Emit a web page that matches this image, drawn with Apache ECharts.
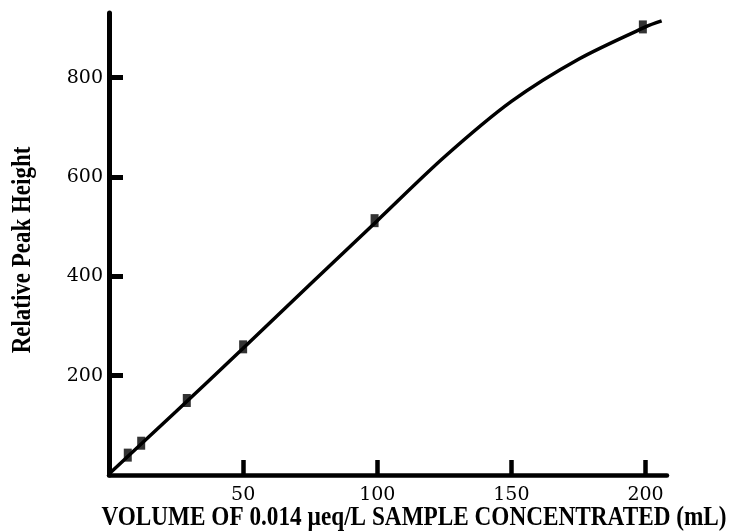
<!DOCTYPE html>
<html>
<head>
<meta charset="utf-8">
<script src="https://cdn.jsdelivr.net/npm/echarts@6/dist/echarts.min.js"></script>
<style>
    html, body { margin: 0; padding: 0; background: #fff; }
    #main { width: 730px; height: 531px; }
</style>
</head>
<body>
<div id="main"></div>
<script>
// measured points (squares)
var pointX = [7, 12, 29, 50, 99, 199];
var pointY = [40, 64, 150, 258, 512, 902];

// fitted curve
var curveX = [0, 25, 50, 75, 100, 125, 150, 175, 200, 206];
var curveY = [2, 128, 255, 384, 512, 640, 752, 837, 902, 914];

var xTicks = [50, 100, 150, 200];
var yTicks = [200, 400, 600, 800];

var xTitle = 'VOLUME OF 0.014 \u00b5eq/L SAMPLE CONCENTRATED (mL)';
var yTitle = 'Relative Peak Height';

function pairs(xs, ys) {
    var out = [];
    for (var i = 0; i < xs.length; i++) {
        out.push([xs[i], ys[i]]);
    }
    return out;
}

var labelFont = {
    color: '#000',
    fontFamily: 'DejaVu Serif',
    fontSize: 19
};

var option = {
    backgroundColor: '#fff',
    animation: false,
    grid: {
        left: 109,
        right: 63,
        top: 13,
        bottom: 56
    },
    xAxis: {
        type: 'value',
        min: 0,
        max: 208,
        splitLine: { show: false },
        axisLine: { lineStyle: { color: '#000', width: 4.5 } },
        axisTick: {
            inside: true,
            length: 15,
            customValues: xTicks,
            lineStyle: { color: '#000', width: 4.5 }
        },
        axisLabel: Object.assign({ margin: 11, customValues: xTicks }, labelFont)
    },
    yAxis: {
        type: 'value',
        min: 0,
        max: 930,
        splitLine: { show: false },
        axisLine: { lineStyle: { color: '#000', width: 5 } },
        axisTick: {
            inside: true,
            length: 14,
            customValues: yTicks,
            lineStyle: { color: '#000', width: 5 }
        },
        axisLabel: Object.assign({ margin: 6, customValues: yTicks }, labelFont)
    },
    graphic: [
        {
            type: 'text',
            x: 414,
            y: 518,
            scaleX: 0.83,
            style: {
                text: xTitle,
                font: 'bold 28px "Liberation Serif"',
                fill: '#000',
                align: 'center',
                verticalAlign: 'middle'
            }
        },
        {
            type: 'text',
            x: 23,
            y: 250,
            rotation: Math.PI / 2,
            scaleX: 0.82,
            style: {
                text: yTitle,
                font: 'bold 28px "Liberation Serif"',
                fill: '#000',
                align: 'center',
                verticalAlign: 'middle'
            }
        }
    ],
    series: [
        {
            type: 'line',
            data: pairs(curveX, curveY),
            smooth: 0.3,
            showSymbol: false,
            symbol: 'none',
            lineStyle: { color: '#000', width: 3.5 },
            z: 2
        },
        {
            type: 'scatter',
            data: pairs(pointX, pointY),
            symbol: 'rect',
            symbolSize: [8, 13],
            itemStyle: { color: '#000' },
            z: 3
        }
    ]
};

var myChart = echarts.init(document.getElementById('main'));
myChart.setOption(option);
</script>
</body>
</html>
